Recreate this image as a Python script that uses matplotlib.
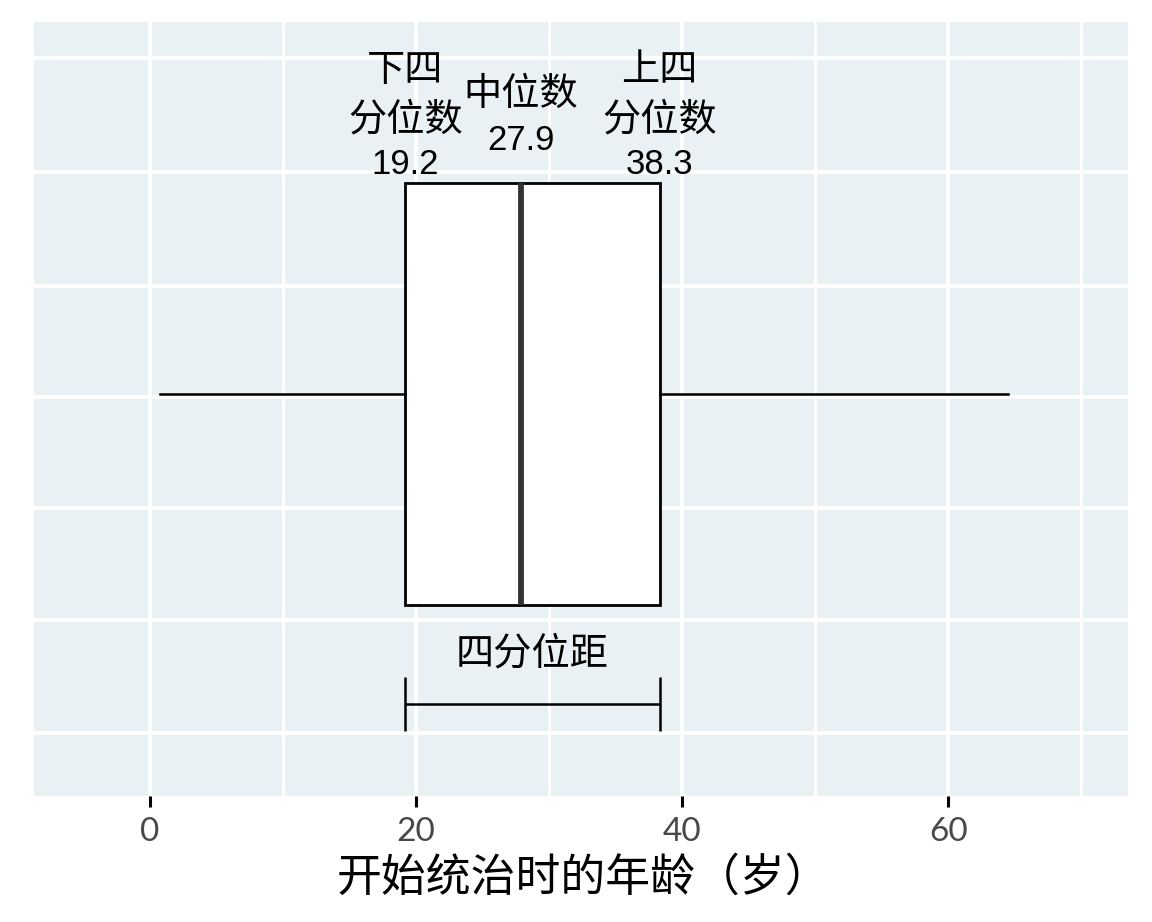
import matplotlib
matplotlib.use("Agg")
import matplotlib.pyplot as plt

# ---- data ----
whisker_low = 0.8
q1 = 19.2
median = 27.9
q3 = 38.3
whisker_high = 64.5
x_major_ticks = [0, 20, 40, 60]
x_minor_ticks = [10, 30, 50, 70]
x_label = "开始统治时的年龄（岁）"
q1_label = ["下四", "分位数", "19.2"]
median_label = ["中位数", "27.9"]
q3_label = ["上四", "分位数", "38.3"]
iqr_label = "四分位距"

BG = "#e9f1f5"
CJK = ["Liberation Sans", "Noto Sans CJK SC", "DejaVu Sans"]

fig = plt.figure(figsize=(11.52, 9.22), dpi=100)
ax = fig.add_axes([34/1152, 1 - 796/922, (1128-34)/1152, (796-22)/922])
ax.set_facecolor(BG)
ax.set_xlim(-8.7, 73.5)
ax.set_ylim(0, 774/111.5)

# grid
ygrid = [0.565, 1.58, 2.58, 3.58, 4.57, 5.60, 6.62]
for yv in ygrid:
    ax.axhline(yv, color="white", lw=2.8, zorder=0.5)
for xv in x_major_ticks:
    ax.axvline(xv, color="white", lw=2.8, zorder=0.5)
for xv in x_minor_ticks:
    ax.axvline(xv, color="white", lw=2.2, zorder=0.5)

center = 3.605
stats = [dict(whislo=whisker_low, q1=q1, med=median, q3=q3, whishi=whisker_high, fliers=[])]
ax.bxp(stats, positions=[center], widths=[3.785], orientation="horizontal",
       showcaps=False, patch_artist=True, manage_ticks=False,
       boxprops=dict(facecolor="white", edgecolor="black", linewidth=2.0),
       whiskerprops=dict(color="black", linewidth=1.8),
       medianprops=dict(color="#333333", linewidth=4.2, solid_capstyle="butt"),
       zorder=3)

# IQR bracket
ax.hlines(0.825, q1, q3, color="black", lw=1.8, zorder=3)
ax.vlines([q1, q3], 0.583, 1.067, color="black", lw=1.8, zorder=3)
ax.text((q1 + q3) / 2, 1.265, iqr_label, ha="center", va="center",
        family=CJK, fontsize=27.5, color="black")

# quartile labels
def put(xv, yv, s, size):
    ax.text(xv, yv, s, ha="center", va="center", family=CJK, fontsize=size, color="black")

put(q1, 6.50, q1_label[0], 27.5)
put(q1, 6.06, q1_label[1], 27.5)
put(q1, 5.66, q1_label[2], 25)
put(median, 6.29, median_label[0], 27.5)
put(median, 5.88, median_label[1], 25)
put(q3, 6.50, q3_label[0], 27.5)
put(q3, 6.06, q3_label[1], 27.5)
put(q3, 5.66, q3_label[2], 25)

# axes styling
for s in ax.spines.values():
    s.set_visible(False)
ax.set_yticks([])
ax.set_xticks(x_major_ticks)
ax.set_xticklabels([str(t) for t in x_major_ticks], family="Lato", fontsize=24,
                   color="#484848")
ax.tick_params(axis="x", direction="out", length=8, width=2.2, color="black", pad=7)
ax.set_xlabel(x_label, family=["Noto Sans CJK SC", "DejaVu Sans"], fontsize=32.3, color="black")
ax.xaxis.set_label_coords((583 - 34) / 1094, -0.106)
ax.xaxis.label.set_va("center")

fig.savefig("out.png", dpi=100, facecolor="white")
